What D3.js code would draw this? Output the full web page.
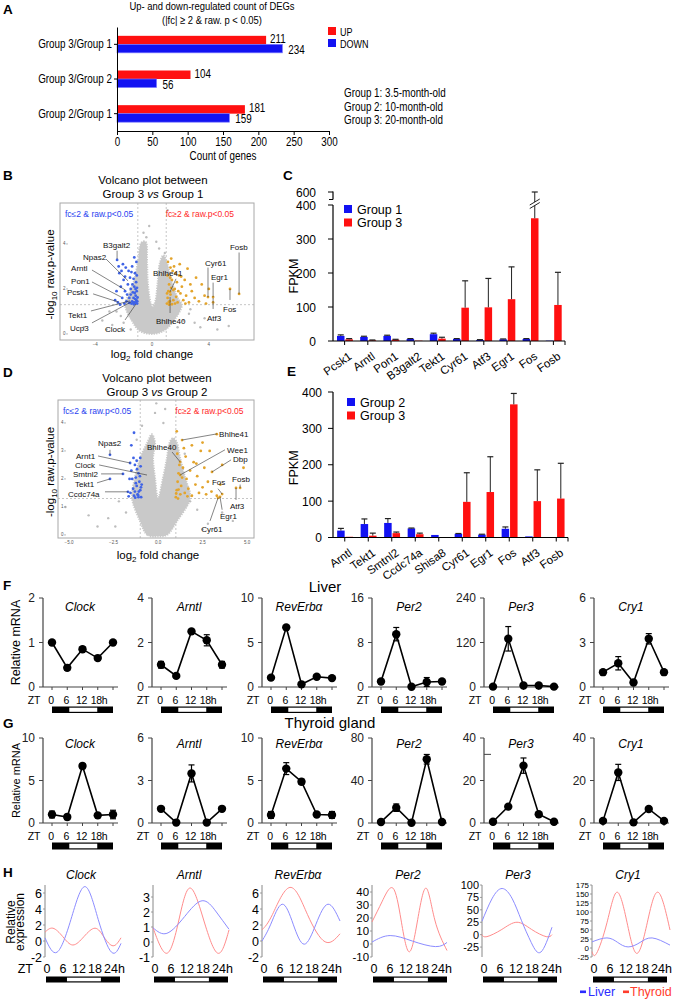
<!DOCTYPE html>
<html><head><meta charset="utf-8">
<script src="https://cdn.jsdelivr.net/npm/d3@7/dist/d3.min.js"></script>
<style>html,body{margin:0;padding:0;background:#fff;}svg{display:block;}</style>
</head><body><svg id="fig" width="681" height="999"></svg>
<script>
// ================= DATA =================
// Panel A
const degComparisons = ["Group 3/Group 1", "Group 3/Group 2", "Group 2/Group 1"];
const degUp = [211, 104, 181];
const degDown = [234, 56, 159];
const degTicks = [0, 50, 100, 150, 200, 250, 300];
const groupNotes = ["Group 1: 3.5-month-old", "Group 2: 10-month-old", "Group 3: 20-month-old"];

// Volcano thresholds
const fcCutoff = 2;
const pCutoff = 0.05;

// Panel B volcano (log2 fold change, -log10 p)
const volcanoBCloud = [[0,0],[-0.85,0.13],[-1.4,0.56],[-1.9,1.3],[-1.6,1.8],[-1.3,2.3],[-1.0,3.17],[-0.75,4.06],[-0.45,4.1],[-0.35,3.17],[-0.3,2.3],[-0.1,1.4],[0.05,1.2],[0.25,1.5],[0.4,2.3],[0.56,3.17],[0.8,3.5],[1.05,3.17],[1.4,2.3],[1.8,1.6],[2.1,1.3],[1.5,0.56],[0.8,0.13]];
const volcanoBGray = [[-4.8,0.3],[-3.5,0.6],[-3.0,1.0],[-2.8,0.4],[-2.2,0.8],[2.6,0.9],[3.0,0.5],[3.7,0.7],[5.4,0.35],[4.6,0.2],[-0.4,4.3],[0.3,4.1],[0.9,3.6],[-1.5,0.2],[1.8,0.3],[-2.5,1.0],[2.7,1.1],[1.1,5.5],[-0.2,4.8],[-0.6,4.5],[0.5,3.8],[-2.0,0.5],[2.2,0.6],[-3.2,0.2],[3.4,0.3]];
const volcanoBDown = [[-1.05,1.35],[-1.1,1.5],[-1.15,1.7],[-1.2,1.4],[-1.08,1.9],[-1.25,2.1],[-1.3,1.6],[-1.12,2.3],[-1.4,1.45],[-1.35,1.85],[-1.5,2.0],[-1.45,1.35],[-1.6,1.6],[-1.7,2.2],[-1.55,2.5],[-1.8,1.45],[-1.9,1.9],[-2.0,2.4],[-2.1,1.6],[-2.2,2.1],[-2.3,2.7],[-2.4,1.4],[-2.5,1.9],[-1.65,2.8],[-1.85,2.95],[-2.05,3.1],[-1.4,3.0],[-1.2,2.7],[-1.1,3.2],[-1.3,2.45],[-1.06,2.05],[-1.18,1.55],[-1.28,1.32],[-1.6,1.38],[-1.75,1.75],[-2.6,1.5],[-2.25,1.3],[-1.95,1.35],[-1.5,1.75],[-1.38,2.2],[-1.02,1.62],[-1.07,2.6],[-1.45,2.75],[-2.15,2.8],[-1.9,2.55],[-2.35,3.0],[-1.25,3.4],[-2.46,3.29],[-1.04,1.45],[-1.14,1.38],[-1.22,1.82],[-1.33,1.4],[-1.16,2.0]];
const volcanoBUp = [[1.05,1.35],[1.1,1.6],[1.15,1.9],[1.2,2.2],[1.08,2.6],[1.25,1.45],[1.3,1.75],[1.35,2.05],[1.4,2.4],[1.45,2.8],[1.5,1.5],[1.55,3.0],[1.6,2.0],[1.7,1.65],[1.75,2.3],[1.8,1.4],[1.9,2.6],[2.0,1.8],[2.1,2.1],[2.2,1.5],[2.3,2.4],[2.4,1.7],[2.5,2.9],[2.6,1.4],[2.7,2.2],[2.8,1.9],[3.0,1.6],[3.1,2.5],[3.3,1.45],[3.5,2.2],[3.7,1.7],[3.94,1.64],[4.0,2.0],[4.3,1.64],[1.12,3.2],[1.35,3.35],[1.65,2.7],[1.95,3.1],[2.35,1.35],[1.2,1.3],[1.5,1.95],[1.85,1.9],[2.05,2.55],[1.3,2.95],[5.49,2.0],[6.13,1.78],[3.8,1.35],[4.3,1.4],[1.06,1.8],[1.18,1.42],[1.28,2.5],[1.4,1.32],[1.62,1.35],[1.27,1.87]];
// [gene, text fc, text p, line from fc, p, line to fc, p]
const volcanoBLabels = [
 ["B3galt2",-3.45,3.84,-2.46,3.70,-2.46,3.33],
 ["Npas2",-4.86,3.27,-3.24,3.33,-1.69,2.36],
 ["Arntl",-5.70,2.78,-4.23,2.84,-1.90,1.96],
 ["Pon1",-5.70,2.24,-4.23,2.31,-2.18,1.64],
 ["Pcsk1",-5.99,1.71,-4.15,1.78,-2.39,1.42],
 ["Tekt1",-5.92,0.69,-4.30,1.02,-1.55,1.47],
 ["Ucp3",-5.77,0.11,-4.23,0.49,-1.48,1.42],
 ["Clock",-3.31,0.07,-1.90,0.62,-1.13,1.33],
 ["Bhlhe41",0.07,2.56,1.69,2.45,1.27,1.87],
 ["Bhlhe40",0.28,0.42,1.27,0.93,1.27,1.64],
 ["Cyr61",3.73,3.04,3.94,2.95,3.94,1.64],
 ["Egr1",4.15,2.38,4.30,2.28,4.30,1.64],
 ["Fosb",5.49,3.71,6.13,3.62,6.13,1.78],
 ["Fos",5.0,0.99,5.49,1.51,5.49,2.0],
 ["Atf3",3.87,0.56,4.30,1.11,4.30,1.6]
];
const volcanoBXTicks = [-4, 0, 4];
const volcanoBYTicks = [0, 2, 4];

// Panel D volcano
const volcanoDCloud = [[0,-0.05],[-0.6,0.0],[-1.0,0.48],[-1.46,1.32],[-1.3,2.04],[-1.0,2.75],[-0.6,3.3],[-0.35,3.6],[-0.17,3.3],[-0.28,2.75],[-0.17,2.04],[0,1.3],[0.28,2.04],[0.5,2.75],[0.65,3.3],[0.85,3.46],[1.05,3.3],[1.24,2.75],[1.52,2.04],[1.8,1.32],[1.05,0.48],[0.5,0.0]];
const volcanoDGray = [[-5.2,1.0],[-3.9,0.7],[-3.4,0.3],[-2.2,1.2],[-2.8,0.6],[2.2,0.9],[2.8,0.4],[3.6,0.8],[-0.17,4.36],[0.3,4.0],[-0.9,3.9],[1.8,1.2],[-1.8,0.8],[4.2,0.5],[-0.1,4.7],[0.4,4.5],[-2.4,0.3],[2.5,0.2],[-1.2,3.4],[1.5,2.9]];
const volcanoDDown = [[-0.95,1.35],[-1.0,1.6],[-1.05,1.9],[-1.1,2.2],[-0.98,2.45],[-1.15,1.45],[-1.2,1.75],[-1.25,2.05],[-1.3,2.5],[-1.35,1.4],[-1.4,1.65],[-1.45,2.0],[-1.5,2.3],[-1.55,1.5],[-1.0,2.75],[-1.1,1.35],[-1.2,2.65],[-0.92,1.8],[-1.3,1.55],[-1.6,2.0],[-1.65,1.38],[-1.38,2.75],[-1.08,1.55],[-1.18,2.35],[-1.5,3.2],[-1.35,3.65],[-2.7,2.86],[-2.7,2.0],[-1.97,2.18],[-1.57,2.57],[-1.25,1.85],[-1.02,2.1],[-1.69,1.54],[-0.96,1.7],[-1.12,1.42],[-1.28,1.33]];
const volcanoDUp = [[1.0,1.35],[1.05,1.6],[1.1,1.9],[1.15,2.2],[1.2,2.5],[1.25,1.45],[1.3,1.75],[1.35,2.05],[1.4,2.4],[1.5,1.5],[1.55,2.8],[1.6,2.0],[1.7,1.65],[1.8,2.3],[1.9,1.4],[2.0,2.6],[2.1,1.8],[2.2,2.1],[2.3,1.5],[2.4,3.0],[2.5,1.7],[2.6,2.4],[2.7,1.45],[2.8,1.9],[3.0,1.55],[3.03,2.25],[3.3,1.4],[3.5,1.8],[3.6,1.46],[1.08,2.9],[1.35,3.39],[1.05,3.7],[1.45,3.1],[3.3,3.6],[2.9,3.0],[2.5,3.3],[1.9,3.2],[3.37,1.32],[4.61,1.68],[4.8,2.4],[3.6,2.5],[3.48,1.36],[1.12,1.3],[1.65,1.38],[2.15,2.55],[1.24,2.14],[1.24,2.61],[4.38,1.68],[1.02,1.48],[1.15,1.62]];
const volcanoDLabels = [
 ["Npas2",-3.37,3.18,-2.70,3.04,-2.70,2.86],
 ["Arnt1",-4.61,2.71,-3.37,2.82,-1.57,2.57],
 ["Clock",-4.66,2.39,-3.31,2.50,-0.62,2.14],
 ["Smtnl2",-4.78,2.07,-3.20,2.18,-1.97,2.18],
 ["Tekt1",-4.66,1.71,-3.43,1.86,-2.70,2.0],
 ["Ccdc74a",-5.06,1.36,-2.98,1.54,-1.69,1.54],
 ["Bhlhe41",3.43,3.50,3.31,3.61,1.35,3.39],
 ["Bhlhe40",-0.62,3.04,0.79,2.96,1.24,2.61],
 ["Wee1",3.88,2.93,3.76,3.04,1.24,2.14],
 ["Dbp",4.21,2.61,4.10,2.68,3.03,2.25],
 ["Fos",3.03,1.79,3.37,1.65,3.60,1.46],
 ["Fosb",4.16,1.89,4.61,1.80,4.61,1.68],
 ["Atf3",4.04,0.93,4.38,1.25,4.38,1.68],
 ["Egr1",3.48,0.57,3.60,0.9,3.48,1.36],
 ["Cyr61",2.42,0.11,2.92,0.5,3.37,1.32]
];
const volcanoDXTicks = [-5, -2.5, 0, 2.5, 5];
const volcanoDYTicks = [0, 1, 2, 3, 4];

// Panel C FPKM
const fpkmCGenes = ["Pcsk1","Arntl","Pon1","B3galt2","Tekt1","Cyr61","Atf3","Egr1","Fos","Fosb"];
const fpkmCGroup1 = [15,12,15,6,20,6,3,5,6,1];
const fpkmCGroup1Err = [3,2,2,1,3,1,1,1,1,0];
const fpkmCGroup3 = [5,2,4,1,7,98,99,123,361,106];
const fpkmCGroup3Err = [2,1,1,0,4,79,85,95,239,96];
const fpkmCTicks = [0,100,200,300,400];
const fpkmCBreakTick = 600;

// Panel E FPKM
const fpkmEGenes = ["Arntl","Tekt1","Smtnl2","Ccdc74a","Shisa8","Cyr61","Egr1","Fos","Atf3","Fosb"];
const fpkmEGroup2 = [19,37,40,25,7,10,8,24,3,1];
const fpkmEGroup2Err = [6,14,12,1,0,1,1,5,0,0];
const fpkmEGroup3 = [2,5,12,9,1,98,125,366,100,107];
const fpkmEGroup3Err = [0,7,3,3,0,80,97,30,86,97];
const fpkmETicks = [0,100,200,300,400];

// Panels F, G (qPCR at ZT)
const ztHours = [0, 6, 12, 18, 24];
const ztLabels = ["0", "6", "12", "18h"];
const lightPhase = [6.8, 17.8];
const clockGenes = ["Clock", "Arntl", "RevErbα", "Per2", "Per3", "Cry1"];
const liverMax = [2, 4, 10, 16, 240, 6];
const liverMean = [[1,0.43,0.85,0.65,1],[1,0.5,2.5,2.1,1],[1.05,6.7,0.3,1.15,1],[1,9.5,0.05,0.9,1],[1,130,4,4,1],[1,1.6,0.3,3.25,1]];
const liverErr = [[0.04,0.05,0.05,0.05,0.04],[0.15,0.05,0.05,0.25,0.15],[0.05,0.2,0.1,0.2,0.1],[0,1.2,0,0.8,0],[0,33,0,0,0],[0,0.45,0,0.35,0]];
const thyroidMax = [10, 6, 10, 80, 40, 40];
const thyroidMean = [[1,0.7,6.7,0.9,1],[1,0.03,3.5,0.03,1],[0.95,6.4,4.86,1.0,0.95],[1,14.4,0.2,60,1],[0.6,7.7,27,4.1,0.6],[1,23.8,0.3,6.6,1]];
const thyroidErr = [[0.4,0.3,0.3,0.2,0.5],[0,0,0.6,0,0],[0.4,0.7,0.3,0.2,0.4],[0,3.5,0,4.5,0],[0,0,3.6,0,0],[0,3.8,0,0.7,0]];
const thyroidPer3ExtraTick = 32.3;

// Panel H (fitted rhythms, hours vs relative expression)
const hLabels = ["0", "6", "12", "18", "24h"];
const hDomains = [[-2,7],[-1,3.8],[-2,7],[-10,45.4],[-45,100],[-25,175]];
const hTicks = [[-2,0,2,4,6],[-1,0,1,2,3],[-2,0,2,4,6],[-10,0,10,20,30,40],[-25,0,25,50,75,100],[-25,0,25,50,75,100,125,150,175]];
const hLiver = [
 [[0,0.4],[3.8,-1.4],[8.2,2.7],[12.6,6.8],[16.8,2.7],[21,-1.4],[24,-0.3]],
 [[0,0.95],[4.4,0.58],[10,1.7],[15.5,2.75],[20,2.0],[24,0.85]],
 [[0,0],[2.7,2.1],[6.2,4.6],[9.6,2.1],[13,-0.4],[16.6,2.1],[20.3,4.6],[24,2.5]],
 [[0,1.5],[5.8,6.5],[13,2.2],[20.3,-2],[24,1.2]],
 [[0,27],[3.4,72],[6.9,93],[10.4,72],[13.5,29],[16.9,-16],[20.2,-35],[24,15]],
 [[0,17],[4.6,28],[7.9,15.5],[11.1,3],[14.8,15.5],[18.5,28],[24,8]]
];
const hThyroid = [
 [[0,1.1],[2.5,1.6],[5.6,0.55],[8.8,-0.5],[12.3,0.55],[15.8,1.6],[18.6,0.5],[21.5,-0.6],[24,0.4]],
 [[0,0.95],[4.4,-0.75],[8.1,1.4],[11.7,3.6],[16.1,1.4],[20.5,-0.75],[24,0.8]],
 [[0,1.4],[3.2,3.3],[8.6,6.7],[14,3.3],[19.4,-0.1],[24,0.9]],
 [[0,17],[3.3,33],[6.7,43],[9.3,18.5],[11.9,-6],[14.6,18.5],[17.3,43],[20.1,18.5],[24,-5]],
 [[0,0],[1.7,-4],[6.8,10.5],[12,25],[17,10.5],[22,-4],[24,0]],
 [[0,-10],[1.4,-15],[4.6,70],[7.7,155],[10.8,70],[13.8,-15],[17,70],[20.3,155],[24,50]]
];

// ================= DRAWING =================
const SANS = '"Liberation Sans", Arial, Helvetica, sans-serif';
const BLUE = "#1212f2", RED = "#ff1010";
const svg = d3.select("#fig");
svg.append("rect").attr("width", 681).attr("height", 999).attr("fill", "#fff");

function T(parent, x, y, str, o = {}) {
  const t = parent.append("text").attr("x", x).attr("y", y).text(str)
    .attr("font-size", o.size || 12).attr("fill", o.fill || "#000")
    .attr("text-anchor", o.anchor || "start").attr("font-family", o.family || SANS);
  if (o.italic) t.attr("font-style", "italic");
  if (o.bold) t.attr("font-weight", "bold");
  if (o.ls != null) t.attr("letter-spacing", o.ls);
  if (o.narrow) t.classed("narrow", true);
  if (o.rotate != null) t.attr("transform", `rotate(${o.rotate},${x},${y})`);
  return t;
}
function L(parent, x1, y1, x2, y2, stroke = "#000", w = 1) {
  return parent.append("line").attr("x1", x1).attr("y1", y1).attr("x2", x2).attr("y2", y2)
    .attr("stroke", stroke).attr("stroke-width", w);
}
function styleAxis(ax, size, narrow) {
  ax.attr("font-family", null).attr("font-size", null);
  ax.selectAll("text").attr("font-size", size).attr("font-family", SANS).attr("fill", "#000").classed("narrow", !!narrow);
  ax.select(".domain").attr("stroke", "#000");
  ax.selectAll(".tick line").attr("stroke", "#000");
}

// Panel letters
[["A",3,14],["B",3,180],["C",283,180],["D",3,377],["E",287,376],["F",3,590],["G",3,728],["H",3,877]]
  .forEach(([s,x,y]) => T(svg, x, y, s, {size: 13.5, bold: true}));

// ---------- Panel A ----------
(function () {
  const g = svg.append("g");
  const x = d3.scaleLinear().domain([0, 300]).range([117, 329]);
  const y = d3.scaleBand().domain(degComparisons).range([27, 131]);
  const bh = 8.5;
  degComparisons.forEach((c, i) => {
    const cy = y(c) + y.bandwidth() / 2;
    g.append("rect").attr("x", x(0)).attr("y", cy - bh).attr("width", x(degUp[i]) - x(0)).attr("height", bh).attr("fill", RED);
    g.append("rect").attr("x", x(0)).attr("y", cy).attr("width", x(degDown[i]) - x(0)).attr("height", bh).attr("fill", BLUE)
      .attr("stroke", "#7a7aff").attr("stroke-width", 0.7);
    T(g, x(degUp[i]) + 4, cy - 1.3, degUp[i], {size: 12, narrow: true});
    T(g, x(degDown[i]) + 6, cy + 9.8, degDown[i], {size: 12, narrow: true});
  });
  const axB = g.append("g").attr("transform", "translate(0,131)")
    .call(d3.axisBottom(x).tickValues(degTicks).tickSize(4).tickSizeOuter(0).tickPadding(2));
  styleAxis(axB, 12, true);
  const axL = g.append("g").attr("transform", "translate(117,0)")
    .call(d3.axisLeft(y).tickSize(3).tickSizeOuter(0).tickPadding(2));
  styleAxis(axL, 12, true);
  T(g, 212, 10, "Up- and down-regulated count of DEGs", {anchor: "middle", size: 11.5, narrow: true});
  T(g, 212, 23.5, "(|fc| ≥ 2 & raw. p < 0.05)", {anchor: "middle", size: 11.5, narrow: true});
  T(g, 223, 160, "Count of genes", {anchor: "middle", size: 12, narrow: true});
  g.append("rect").attr("x", 328).attr("y", 27).attr("width", 8).attr("height", 8).attr("fill", RED);
  T(g, 340, 35.5, "UP", {size: 11, narrow: true});
  g.append("rect").attr("x", 328).attr("y", 39).attr("width", 8).attr("height", 8).attr("fill", BLUE);
  T(g, 340, 48, "DOWN", {size: 11, narrow: true});
  groupNotes.forEach((s, i) => T(g, 344, 97 + i * 13.5, s, {size: 12, narrow: true}));
})();

// ---------- Volcano ----------
function drawVolcano(c) {
  const g = svg.append("g");
  const [bx0, by0, bx1, by1] = c.box;
  const x = d3.scaleLinear().domain(c.xDomain).range([bx0, bx1]);
  const y = d3.scaleLinear().domain(c.yDomain).range([by1, by0]);
  const clipId = "clip" + c.id;
  g.append("clipPath").attr("id", clipId).append("rect").attr("x", bx0).attr("y", by0).attr("width", bx1 - bx0).attr("height", by1 - by0);
  const inner = g.append("g").attr("clip-path", `url(#${clipId})`);
  const lfc = Math.log2(fcCutoff), lp = -Math.log10(pCutoff);
  [-lfc, lfc].forEach(v => L(inner, x(v), by0, x(v), by1, "#b8b8b8", 0.8).attr("stroke-dasharray", "2 2"));
  L(inner, bx0, y(lp), bx1, y(lp), "#b8b8b8", 0.8).attr("stroke-dasharray", "2 2");
  inner.append("path").datum(c.cloud)
    .attr("d", d3.line().x(d => x(d[0])).y(d => y(d[1])).curve(d3.curveCatmullRomClosed.alpha(0.5)))
    .attr("fill", "#c9c9c9").attr("stroke", "#c9c9c9").attr("stroke-width", 2).attr("stroke-dasharray", "1.3 1.2");
  inner.selectAll(null).data(c.gray).join("circle").attr("cx", d => x(d[0])).attr("cy", d => y(d[1])).attr("r", 1.2).attr("fill", "#bdbdbd");
  inner.selectAll(null).data(c.down).join("circle").attr("cx", d => x(d[0])).attr("cy", d => y(d[1])).attr("r", 1.4).attr("fill", "#3f63e6");
  inner.selectAll(null).data(c.up).join("circle").attr("cx", d => x(d[0])).attr("cy", d => y(d[1])).attr("r", 1.4).attr("fill", "#e3a42c");
  c.labels.forEach(([s, tx, ty, x1, y1, x2, y2]) => {
    L(g, x(x1), y(y1), x(x2), y(y2), "#333", 0.6);
    T(g, x(tx), y(ty), s, {size: 8, fill: "#111"});
  });
  g.append("rect").attr("x", bx0).attr("y", by0).attr("width", bx1 - bx0).attr("height", by1 - by0)
    .attr("fill", "none").attr("stroke", "#a8a8a8").attr("stroke-width", 1);
  T(g, bx0 + 5, by0 + 14, "fc≤2 & raw.p<0.05", {size: 8.5, fill: "#2a3ff0"});
  T(g, x(lfc) - 0.5, by0 + 14, "fc≥2 & raw.p<0.05", {size: 8.5, fill: "#ff2a2a"});
  c.xTicks.forEach(v => T(g, x(v), by1 + 6, c.xFmt(v), {size: 4.5, anchor: "middle", fill: "#555"}));
  c.yTicks.forEach(v => { T(g, bx0 + 3, y(v) + 1.5, v, {size: 4.5, fill: "#555"}); L(g, bx0 + 6, y(v), bx0 + 8, y(v), "#777", 0.5); });
  T(g, c.titleX, c.titleY, "Volcano plot between", {anchor: "middle", size: 11.5});
  const t2 = g.append("text").attr("x", c.titleX).attr("y", c.titleY + 14).attr("text-anchor", "middle")
    .attr("font-size", 11.5).attr("font-family", SANS);
  t2.append("tspan").text(c.groups[0] + " ");
  t2.append("tspan").attr("font-style", "italic").text("vs");
  t2.append("tspan").text(" " + c.groups[1]);
  const yl = g.append("text").attr("transform", `translate(54,${(by0 + by1) / 2 + 3}) rotate(-90)`)
    .attr("text-anchor", "middle").attr("font-size", 11.5).attr("font-family", SANS);
  yl.append("tspan").text("-log");
  yl.append("tspan").attr("font-size", 8).attr("dy", 3).text("10");
  yl.append("tspan").attr("dy", -3).text(" raw.p-value");
  const xl = g.append("text").attr("x", c.xLabelX).attr("y", c.xLabelY).attr("text-anchor", "middle")
    .attr("font-size", 11.5).attr("font-family", SANS);
  xl.append("tspan").text("log");
  xl.append("tspan").attr("font-size", 8).attr("dy", 3).text("2");
  xl.append("tspan").attr("dy", -3).text(" fold change");
}
drawVolcano({id: "B", box: [60, 203, 254, 340], xDomain: [-6.48, 7.18], yDomain: [-0.27, 5.82],
  cloud: volcanoBCloud, gray: volcanoBGray, down: volcanoBDown, up: volcanoBUp, labels: volcanoBLabels,
  xTicks: volcanoBXTicks, yTicks: volcanoBYTicks, xFmt: d3.format("d"),
  titleX: 153, titleY: 184, groups: ["Group 3", "Group 1"], xLabelX: 152, xLabelY: 358});
drawVolcano({id: "D", box: [58, 400, 254, 538], xDomain: [-5.62, 5.39], yDomain: [-0.11, 4.82],
  cloud: volcanoDCloud, gray: volcanoDGray, down: volcanoDDown, up: volcanoDUp, labels: volcanoDLabels,
  xTicks: volcanoDXTicks, yTicks: volcanoDYTicks, xFmt: d3.format(".1f"),
  titleX: 157, titleY: 382, groups: ["Group 3", "Group 2"], xLabelX: 158, xLabelY: 559});

// ---------- FPKM bar charts ----------
function drawFpkm(o) {
  const g = svg.append("g");
  const x = d3.scaleBand().domain(o.genes).range([o.x0, o.x1]);
  const y = o.y;
  const y0 = y(0);
  const cx = gn => x(gn) + x.bandwidth() / 2;
  const bar = (bx, v, col) => g.append("rect").attr("x", bx).attr("y", y(v)).attr("width", 7.5).attr("height", y0 - y(v)).attr("fill", col);
  const err = (ex, v, e) => { if (e <= 0) return; L(g, ex, y(v), ex, y(v + e), "#222", 1); L(g, ex - 3, y(v + e), ex + 3, y(v + e), "#222", 1.2); };
  o.genes.forEach((gn, i) => {
    const c = cx(gn);
    bar(c - 7.6, o.a[i], BLUE);
    bar(c + 0.8, o.b[i], RED);
    err(c - 3.85, o.a[i], o.aErr[i]);
    err(c + 4.55, o.b[i], o.bErr[i]);
    L(g, c, y0, c, y0 + 4, "#000", 1);
    T(g, c + 8, y0 + 17, gn, {size: 11.5, anchor: "end", rotate: -35});
  });
  L(g, o.x1, y0, o.x1, y0 + 4, "#000", 1);
  L(g, o.x0, y0, o.x1, y0, "#000", 1.2);
  L(g, o.x0, y0, o.x0, y(o.ticks[o.ticks.length - 1]), "#000", 1.2);
  o.ticks.forEach(v => { L(g, o.x0 - 5, y(v), o.x0, y(v), "#000", 1); T(g, o.labelX, y(v) + 4.5, v, {size: 12, anchor: "end"}); });
  T(g, 298, (y0 + y(o.ticks[o.ticks.length - 1])) / 2 + 3, "FPKM", {size: 12.5, anchor: "middle", rotate: -90});
  o.legend.forEach(([name, col], i) => {
    g.append("rect").attr("x", o.legX).attr("y", o.legY + i * 13.5).attr("width", 8).attr("height", 8).attr("fill", col);
    T(g, o.legX + 13, o.legY + i * 13.5 + 8.5, name, {size: 12.5});
  });
  return {g, x, y, cx};
}
(function () {
  const y = d3.scaleLinear().domain([0, 400, fpkmCBreakTick]).range([341, 205, 192]);
  const r = drawFpkm({genes: fpkmCGenes, a: fpkmCGroup1, aErr: fpkmCGroup1Err, b: fpkmCGroup3, bErr: fpkmCGroup3Err,
    x0: 333, x1: 565, y, ticks: fpkmCTicks, labelX: 316, legend: [["Group 1", BLUE], ["Group 3", RED]], legX: 344, legY: 205});
  L(r.g, 333, 191.5, 333, 199.5, "#000", 1.2);
  L(r.g, 328, y(fpkmCBreakTick), 333, y(fpkmCBreakTick), "#000", 1);
  L(r.g, 329, 199.5, 333, 199.5, "#000", 1);
  T(r.g, 316, y(fpkmCBreakTick) + 4.5, fpkmCBreakTick, {size: 12, anchor: "end"});
  const bc = r.cx("Fos") + 4.55;
  r.g.append("polygon").attr("points", `${bc-5},${205} ${bc+5},${199} ${bc+5},${202.5} ${bc-5},${208.5}`).attr("fill", "#fff");
  L(r.g, bc - 5, 205, bc + 5, 199, "#222", 1);
  L(r.g, bc - 5, 208.5, bc + 5, 202.5, "#222", 1);
})();
(function () {
  const y = d3.scaleLinear().domain([0, 400]).range([537.5, 392]);
  drawFpkm({genes: fpkmEGenes, a: fpkmEGroup2, aErr: fpkmEGroup2Err, b: fpkmEGroup3, bErr: fpkmEGroup3Err,
    x0: 333, x1: 568, y, ticks: fpkmETicks, labelX: 322, legend: [["Group 2", BLUE], ["Group 3", RED]], legX: 347, legY: 398});
})();

// ---------- F, G circadian qPCR ----------
const circAxisX = [43, 152, 262, 372, 484, 594];
function drawCirc(o) {
  T(svg, o.headX, o.headY, o.head, {size: 15, anchor: "middle"});
  T(svg, 20, (o.yTop + o.yBot) / 2, "Relative mRNA", {size: o.ylabSize, anchor: "middle", rotate: -90});
  clockGenes.forEach((gene, i) => {
    const g = svg.append("g");
    const ax = circAxisX[i];
    const x = d3.scaleLinear().domain([0, 24]).range([ax + 9, ax + 70]);
    const y = d3.scaleLinear().domain([0, o.max[i]]).range([o.yBot, o.yTop]);
    L(g, ax, y(0), ax, y(o.max[i]), "#444", 1.2);
    [0, o.max[i] / 2, o.max[i]].forEach(v => { L(g, ax - 4, y(v), ax, y(v), "#444", 1); T(g, ax - 8, y(v) + 4, v, {size: 12, anchor: "end", fill: "#222"}); });
    if (o.extra && o.extra[0] === i) L(g, ax, y(o.extra[1]), ax + 7, y(o.extra[1]), "#444", 1);
    L(g, ax, y(0), ax + 75, y(0), "#444", 1.2);
    ztHours.forEach(h => L(g, x(h), y(0), x(h), y(0) + 3, "#444", 1));
    const pts = ztHours.map((h, k) => [h, o.mean[i][k], o.err[i][k]]);
    g.append("path").datum(pts).attr("d", d3.line().x(d => x(d[0])).y(d => y(d[1])))
      .attr("fill", "none").attr("stroke", "#000").attr("stroke-width", 1.6);
    pts.forEach(([h, m, e]) => { if (e > 0) {
      L(g, x(h), y(m - e), x(h), y(m + e), "#000", 1.2);
      L(g, x(h) - 3, y(m + e), x(h) + 3, y(m + e), "#000", 1.2);
      L(g, x(h) - 3, y(m - e), x(h) + 3, y(m - e), "#000", 1.2);
    }});
    g.selectAll(null).data(pts).join("circle").attr("cx", d => x(d[0])).attr("cy", d => y(d[1])).attr("r", 4.2).attr("fill", "#000");
    T(g, ax + 37, o.titleY, gene, {size: 12, italic: true, anchor: "middle"});
    T(g, ax - 3, o.ztY, "ZT", {size: 10.5, anchor: "end", ls: -0.3});
    ztLabels.forEach((s, k) => {
      if (k < 3) T(g, x(ztHours[k]) - 1, o.ztY, s, {size: 10.5, anchor: "middle", ls: -0.4});
      else T(g, x(ztHours[k]) - 7, o.ztY, s, {size: 10.5, anchor: "start", ls: -0.4});
    });
    g.append("rect").attr("x", x(0)).attr("y", o.barY).attr("width", x(24) - x(0)).attr("height", o.barH).attr("fill", "#000");
    g.append("rect").attr("x", x(lightPhase[0])).attr("y", o.barY + 1.2).attr("width", x(lightPhase[1]) - x(lightPhase[0])).attr("height", o.barH - 2.4).attr("fill", "#fff");
  });
}
drawCirc({head: "Liver", headX: 325, headY: 592, max: liverMax, mean: liverMean, err: liverErr,
  yTop: 598, yBot: 687, titleY: 611, ztY: 703.5, barY: 706.5, barH: 6.5, ylabSize: 12.5});
drawCirc({head: "Thyroid gland", headX: 330, headY: 728, max: thyroidMax, mean: thyroidMean, err: thyroidErr,
  yTop: 738, yBot: 823, titleY: 748, ztY: 839.5, barY: 842.5, barH: 7, ylabSize: 11, extra: [4, thyroidPer3ExtraTick]});

// ---------- H fitted rhythms ----------
(function () {
  const hAxisX = [45, 153, 262, 372, 482, 592];
  const hWidth = [76, 76, 78, 75, 70, 78];
  T(svg, 15, 922, "Relative", {size: 12, anchor: "middle", rotate: -90});
  T(svg, 24, 922, "expression", {size: 12, anchor: "middle", rotate: -90});
  T(svg, 33, 973, "ZT", {size: 12.5, anchor: "end"});
  clockGenes.forEach((gene, i) => {
    const g = svg.append("g");
    const ax = hAxisX[i], w = hWidth[i];
    const x = d3.scaleLinear().domain([0, 24]).range([ax, ax + w]);
    const xl = d3.scaleLinear().domain([0, 24]).range([ax + 2, ax + 66]);
    const y = d3.scaleLinear().domain(hDomains[i]).range([957, 885]);
    const gap = Math.abs(y(hTicks[i][1]) - y(hTicks[i][0]));
    const fs = Math.min(12.5, gap * 0.88);
    L(g, ax, 885, ax, 957, "#888", 1);
    hTicks[i].forEach(v => { L(g, ax - 2, y(v), ax, y(v), "#888", 0.8); T(g, ax - 3, y(v) + fs * 0.36, v, {size: fs, anchor: "end"}); });
    const line = d3.line().x(d => x(d[0])).y(d => y(d[1])).curve(d3.curveNatural);
    g.append("path").datum(hThyroid[i]).attr("d", line).attr("fill", "none").attr("stroke", "#ff8c8c").attr("stroke-width", 1);
    g.append("path").datum(hLiver[i]).attr("d", line).attr("fill", "none").attr("stroke", "#8c8cff").attr("stroke-width", 1);
    T(g, ax + 36, 879, gene, {size: 12, italic: true, anchor: "middle"});
    hLabels.forEach((s, k) => {
      if (k < 4) T(g, xl(ztHours[k]), 973, s, {size: 12.5, anchor: "middle"});
      else T(g, xl(ztHours[k]) - 7, 973, s, {size: 12.5, anchor: "start"});
    });
    g.append("rect").attr("x", ax + 1).attr("y", 976.5).attr("width", 74).attr("height", 6).attr("fill", "#000");
    const bx = d3.scaleLinear().domain([0, 24]).range([ax + 1, ax + 75]);
    g.append("rect").attr("x", bx(lightPhase[0])).attr("y", 977.7).attr("width", bx(lightPhase[1]) - bx(lightPhase[0])).attr("height", 3.6).attr("fill", "#fff");
  });
  svg.append("rect").attr("x", 580).attr("y", 990.5).attr("width", 6).attr("height", 2.6).attr("fill", "#2c2cff");
  T(svg, 588, 996, "Liver", {size: 12.5, fill: "#2c2cff"});
  svg.append("rect").attr("x", 623).attr("y", 990.5).attr("width", 6).attr("height", 2.6).attr("fill", "#ff3c2c");
  T(svg, 630, 996, "Thyroid", {size: 12.5, fill: "#ff3c2c"});
})();

// condense panel A texts (narrow typeface look)
svg.selectAll("text.narrow").each(function () {
  const len = this.getComputedTextLength();
  d3.select(this).attr("textLength", len * 0.82).attr("lengthAdjust", "spacingAndGlyphs");
});
</script></body></html>
